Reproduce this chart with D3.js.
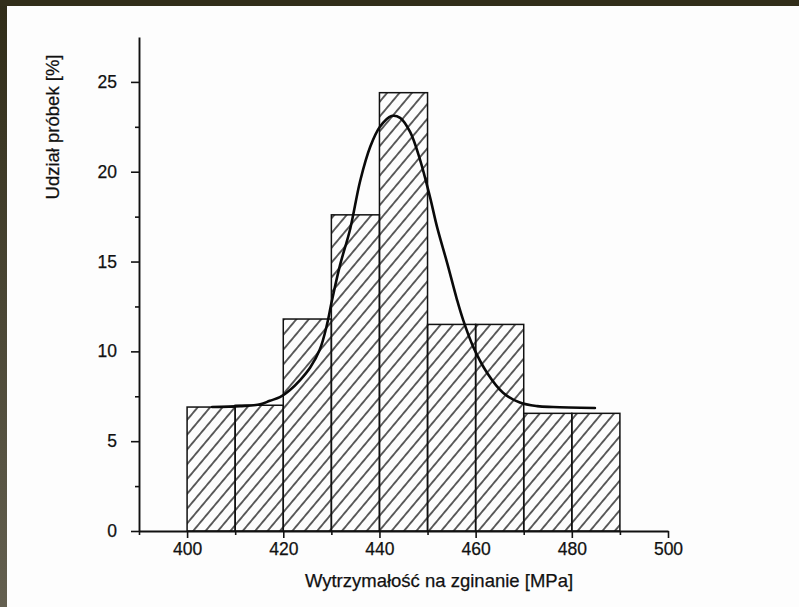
<!DOCTYPE html>
<html>
<head>
<meta charset="utf-8">
<script src="https://cdn.jsdelivr.net/npm/d3@7"></script>
<style>
  html, body { margin: 0; padding: 0; background: #fdfdfd; }
  svg { display: block; }
  text { font-family: "Liberation Sans", Arial, Helvetica, sans-serif; fill: #111; }
</style>
</head>
<body>
<script>
// Class intervals of bending strength [MPa] (lower bound of each 10 MPa bin)
const binStarts = [400, 410, 420, 430, 440, 450, 460, 470, 480];
const binWidth = 10;
// Share of samples in each bin [%]
const shares = [6.9, 7.0, 11.8, 17.6, 24.4, 11.5, 11.5, 6.55, 6.55];

// Fitted distribution curve, sampled points (strength [MPa], share [%])
const curveX = [405.2, 411.0, 415.2, 417.2, 419.3, 421.4, 423.5, 425.6, 427.6, 429.1, 430.1, 431.8,
                433.9, 436.0, 438.1, 440.1, 442.5, 444.3, 446.4, 448.4, 450.5, 452.0, 454.1, 456.1,
                457.4, 459.5, 462.4, 465.7, 469.2, 472.8, 476.1, 484.8];
const curveY = [6.9, 6.95, 7.05, 7.25, 7.45, 7.85, 8.4, 9.1, 10.1, 11.5, 12.8, 14.8,
                16.8, 19.5, 21.4, 22.5, 23.1, 23.0, 22.2, 20.7, 18.6, 16.9, 14.9, 12.9,
                11.75, 10.25, 8.8, 7.7, 7.15, 6.95, 6.9, 6.85];

// Axis ticks
const xMajorTicks = [400, 420, 440, 460, 480, 500];
const xMinorTicks = [390, 410, 430, 450, 470, 490];
const yMajorTicks = [0, 5, 10, 15, 20, 25];
const yMinorTicks = [2.5, 7.5, 12.5, 17.5, 22.5];

const xTitle = "Wytrzymałość na zginanie [MPa]";
const yTitle = "Udział próbek [%]";

const W = 799, H = 607;
const svg = d3.select("body").append("svg").attr("width", W).attr("height", H);

// Scanned-page frame along the top and left edges
const defs = svg.append("defs");
const grad = defs.append("linearGradient").attr("id", "edge").attr("x1", 0).attr("y1", 0).attr("x2", 0).attr("y2", 1);
grad.append("stop").attr("offset", "0%").attr("stop-color", "#302c18");
grad.append("stop").attr("offset", "100%").attr("stop-color", "#646050");
svg.append("rect").attr("x", 0).attr("y", 0).attr("width", 7).attr("height", H).attr("fill", "url(#edge)");
svg.append("rect").attr("x", 0).attr("y", 0).attr("width", W).attr("height", 6).attr("fill", "#322e1a");

// Diagonal hatching used to fill the bars
const hatch = defs.append("pattern")
  .attr("id", "hatch")
  .attr("patternUnits", "userSpaceOnUse")
  .attr("width", 9.5).attr("height", 10)
  .attr("patternTransform", "rotate(40)");
hatch.append("line")
  .attr("x1", 4.75).attr("y1", -1).attr("x2", 4.75).attr("y2", 11)
  .attr("stroke", "#0c0c0c").attr("stroke-width", 1.3);

// Scales
const x = d3.scaleLinear().domain([390, 500]).range([139, 668]);
const y = d3.scaleLinear().domain([0, 27.5]).range([531, 37]);

const g = svg.append("g");

// Histogram bars
g.selectAll("rect.bar")
  .data(binStarts.map((s, i) => ({ start: s, value: shares[i] })))
  .join("rect")
  .attr("class", "bar")
  .attr("x", d => x(d.start))
  .attr("width", d => x(d.start + binWidth) - x(d.start))
  .attr("y", d => y(d.value))
  .attr("height", d => y(0) - y(d.value))
  .attr("fill", "url(#hatch)")
  .attr("stroke", "#111")
  .attr("stroke-width", 1.5);

// Fitted curve
const line = d3.line()
  .x(d => x(d[0]))
  .y(d => y(d[1]))
  .curve(d3.curveCatmullRom.alpha(0.5));
g.append("path")
  .datum(curveX.map((v, i) => [v, curveY[i]]))
  .attr("d", line)
  .attr("fill", "none")
  .attr("stroke", "#0a0a0a")
  .attr("stroke-width", 2.6)
  .attr("stroke-linejoin", "round")
  .attr("stroke-linecap", "round");

// X axis
g.append("g").attr("transform", `translate(0,${y(0)})`)
  .call(d3.axisBottom(x).tickValues(xMajorTicks).tickSize(7).tickPadding(5).tickSizeOuter(0));
g.append("g").attr("transform", `translate(0,${y(0)})`)
  .call(d3.axisBottom(x).tickValues(xMinorTicks).tickSize(4).tickFormat("").tickSizeOuter(0))
  .call(a => a.select(".domain").remove());

// Y axis
g.append("g").attr("transform", `translate(${x(390)},0)`)
  .call(d3.axisLeft(y).tickValues(yMajorTicks).tickSize(8).tickPadding(14).tickSizeOuter(0));
g.append("g").attr("transform", `translate(${x(390)},0)`)
  .call(d3.axisLeft(y).tickValues(yMinorTicks).tickSize(4).tickFormat("").tickSizeOuter(0))
  .call(a => a.select(".domain").remove());

svg.selectAll(".domain").attr("stroke", "#111").attr("stroke-width", 1.9);
svg.selectAll(".tick line").attr("stroke", "#111").attr("stroke-width", 1.6);
svg.selectAll(".tick text")
  .attr("font-size", 17.5)
  .attr("font-family", "'Liberation Sans', Arial, Helvetica, sans-serif")
  .attr("fill", "#111")
  .attr("stroke", "#111")
  .attr("stroke-width", 0.25);

// Axis titles
svg.append("text")
  .attr("x", 439).attr("y", 587)
  .attr("text-anchor", "middle")
  .attr("font-size", 18.5)
  .attr("stroke", "#111").attr("stroke-width", 0.25)
  .text(xTitle);

svg.append("text")
  .attr("transform", "translate(59,127) rotate(-90)")
  .attr("text-anchor", "middle")
  .attr("font-size", 18.5)
  .attr("stroke", "#111").attr("stroke-width", 0.25)
  .text(yTitle);
</script>
</body>
</html>
